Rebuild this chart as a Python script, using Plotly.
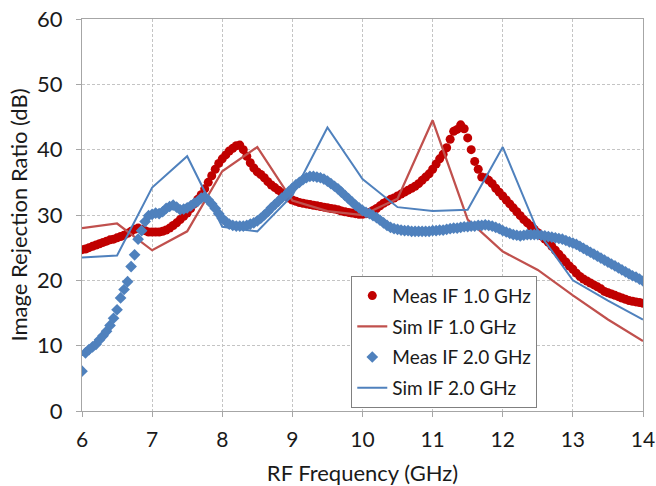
import numpy as np
import plotly.graph_objects as go

# Measured sweep: 6-14 GHz in 0.05 GHz steps
meas_freq = np.round(np.arange(6.0, 14.0001, 0.05), 2)

meas_if1 = [
    24.7, 24.8, 25.0, 25.2, 25.4, 25.6, 25.8, 26.0, 26.2, 26.3, 26.5, 26.7, 26.9, 27.2, 27.5, 27.8, 28.0, 27.8, 27.6, 27.4,
    27.4, 27.4, 27.4, 27.5, 27.7, 28.0, 28.4, 28.8, 29.3, 29.8, 30.3, 31.0, 31.7, 32.4, 33.1, 34.0, 35.0, 36.0, 37.0, 37.9,
    38.6, 39.2, 39.8, 40.2, 40.6, 40.7, 40.0, 39.0, 38.0, 37.2, 36.6, 36.2, 35.7, 35.1, 34.6, 34.2, 33.8, 33.4, 33.0, 32.6,
    32.3, 32.1, 31.9, 31.8, 31.7, 31.6, 31.5, 31.4, 31.3, 31.2, 31.1, 31.0, 30.9, 30.8, 30.6, 30.5, 30.4, 30.3, 30.2, 30.1,
    30.1, 30.2, 30.4, 30.7, 31.0, 31.4, 31.8, 32.1, 32.4, 32.6, 32.9, 33.2, 33.5, 33.8, 34.1, 34.4, 34.8, 35.3, 35.8, 36.3,
    37.0, 37.8, 38.6, 39.3, 40.3, 41.6, 42.8, 43.1, 43.8, 43.2, 41.8, 40.0, 38.2, 37.0, 35.8, 35.7, 35.3, 34.8, 34.1, 33.5,
    32.9, 32.3, 31.7, 31.1, 30.5, 29.9, 29.3, 28.8, 28.3, 27.8, 27.3, 26.8, 26.3, 25.8, 25.2, 24.6, 24.0, 23.4, 22.8, 22.2,
    21.7, 21.1, 20.6, 20.2, 19.9, 19.6, 19.3, 19.0, 18.7, 18.3, 18.1, 17.9, 17.7, 17.5, 17.3, 17.1, 16.9, 16.8, 16.7, 16.6,
    16.5,
]

meas_if2 = [
    6.1, 8.9, 9.4, 9.8, 10.2, 10.9, 11.5, 12.2, 13.1, 14.2, 15.5, 17.3, 18.6, 19.8, 22.1, 23.9, 26.3, 27.6, 29.0, 29.9,
    30.1, 30.3, 30.2, 30.5, 31.0, 31.3, 31.5, 31.2, 30.8, 30.9, 31.1, 31.4, 31.8, 32.1, 32.6, 32.8, 32.3, 31.7, 31.0, 30.2,
    29.5, 29.0, 28.6, 28.4, 28.3, 28.3, 28.3, 28.4, 28.6, 28.8, 29.1, 29.5, 30.0, 30.5, 31.1, 31.6, 32.1, 32.6, 33.0, 33.6,
    34.1, 34.6, 35.0, 35.4, 35.7, 35.9, 35.9, 35.8, 35.7, 35.5, 35.2, 34.8, 34.4, 34.0, 33.5, 33.0, 32.5, 32.0, 31.5, 31.1,
    30.7, 30.4, 30.2, 29.9, 29.6, 29.2, 28.8, 28.4, 28.1, 27.9, 27.8, 27.7, 27.6, 27.6, 27.5, 27.5, 27.5, 27.5, 27.5, 27.5,
    27.6, 27.6, 27.7, 27.7, 27.8, 27.9, 28.0, 28.0, 28.1, 28.2, 28.2, 28.3, 28.3, 28.4, 28.4, 28.5, 28.4, 28.3, 28.1, 27.9,
    27.6, 27.4, 27.2, 27.0, 26.9, 26.8, 26.9, 27.0, 27.0, 27.0, 27.0, 26.9, 26.8, 26.7, 26.6, 26.5, 26.4, 26.3, 26.1, 25.9,
    25.7, 25.5, 25.2, 24.9, 24.6, 24.3, 24.0, 23.7, 23.4, 23.1, 22.8, 22.5, 22.2, 21.9, 21.6, 21.3, 21.0, 20.7, 20.5, 20.2,
    19.9,
]

# Simulation: 0.5 GHz steps
sim_freq = [6.0, 6.5, 7.0, 7.5, 8.0, 8.5, 9.0, 9.5, 10.0, 10.5, 11.0, 11.5, 12.0, 12.5, 13.0, 13.5, 14.0]
sim_if1 = [28.0, 28.7, 24.6, 27.5, 36.7, 40.4, 32.2, 30.6, 30.0, 32.5, 44.5, 29.3, 24.4, 21.6, 17.7, 14.0, 10.7]
sim_if2 = [23.5, 23.8, 34.2, 39.0, 28.2, 27.5, 33.0, 43.4, 35.5, 31.2, 30.6, 30.8, 40.4, 27.5, 20.0, 16.9, 14.0]

x_ticks = [6, 7, 8, 9, 10, 11, 12, 13, 14]
y_ticks = [0, 10, 20, 30, 40, 50, 60]

FONT = "Lato, 'Open Sans', sans-serif"
TXT = "#1a1a1a"
GRID = "#c4c4c4"
AXIS = "#a6a6a6"

fig = go.Figure()
fig.add_trace(go.Scatter(
    x=meas_freq, y=meas_if1, mode="markers", name="Meas IF 1.0 GHz",
    marker=dict(symbol="circle", size=9, color="#c00000", line=dict(width=0)),
    legendgroup="a",
))
fig.add_trace(go.Scatter(
    x=sim_freq, y=sim_if1, mode="lines", name="Sim IF 1.0 GHz",
    line=dict(color="#c0504d", width=2.25), legendgroup="b",
))
fig.add_trace(go.Scatter(
    x=meas_freq, y=meas_if2, mode="markers", name="Meas IF 2.0 GHz",
    marker=dict(symbol="diamond", size=9, color="#4f81bd", line=dict(width=0)),
    legendgroup="c",
))
fig.add_trace(go.Scatter(
    x=sim_freq, y=sim_if2, mode="lines", name="Sim IF 2.0 GHz",
    line=dict(color="#4f81bd", width=2), legendgroup="d",
))

fig.update_layout(
    width=656, height=486,
    margin=dict(l=82, r=13, t=19, b=75),
    paper_bgcolor="white", plot_bgcolor="white",
    font=dict(family=FONT, size=21, color=TXT),
    showlegend=True,
    legend=dict(
        x=0.48, y=0.345, xanchor="left", yanchor="top",
        bgcolor="white", bordercolor="#808080", borderwidth=1,
        font=dict(family=FONT, size=19, color=TXT),
        tracegroupgap=3, traceorder="grouped",
        itemwidth=30,
    ),
)
fig.update_xaxes(
    range=[6, 14], tickvals=x_ticks, ticktext=[str(v) for v in x_ticks],
    automargin=False, ticklabeloverflow="allow",
    tickfont=dict(family=FONT, size=21, color=TXT),
    showgrid=True, gridcolor=GRID, griddash="3px,2px", gridwidth=1,
    showline=True, linecolor=AXIS, linewidth=1, mirror=True,
    ticks="outside", ticklen=5, tickcolor=AXIS, ticklabelstandoff=5,
    zeroline=False,
    title=dict(text="RF Frequency (GHz)", font=dict(family=FONT, size=22, color=TXT), standoff=16),
)
fig.update_yaxes(
    range=[0, 60], tickvals=y_ticks, ticktext=[str(v) for v in y_ticks],
    automargin=False, ticklabeloverflow="allow",
    tickfont=dict(family=FONT, size=22, color=TXT),
    showgrid=True, gridcolor=GRID, griddash="3px,2px", gridwidth=1,
    showline=True, linecolor=AXIS, linewidth=1, mirror=True,
    ticks="outside", ticklen=5, tickcolor=AXIS, ticklabelstandoff=9,
    zeroline=False,
    title=dict(text="Image Rejection Ratio (dB)", font=dict(family=FONT, size=22, color=TXT), standoff=3),
)

fig.write_html("out.html")
